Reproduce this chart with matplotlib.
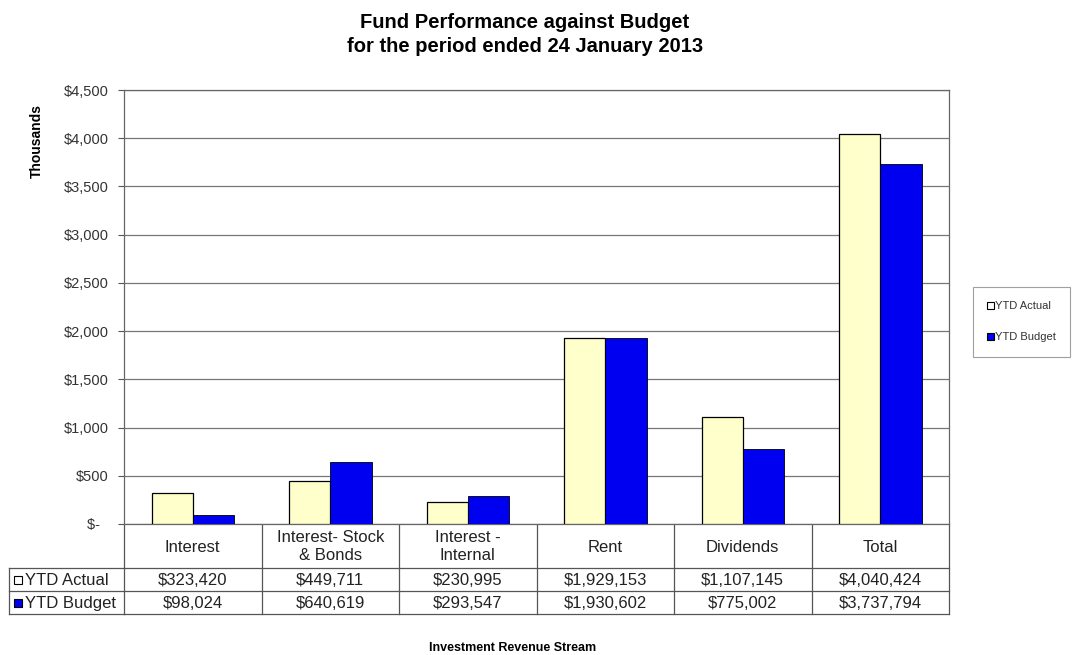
import numpy as np
import matplotlib
matplotlib.use("Agg")
import matplotlib.pyplot as plt
from matplotlib.patches import Rectangle
from matplotlib.ticker import FuncFormatter
from matplotlib.transforms import blended_transform_factory

plt.rcParams['font.family'] = ['Liberation Sans', 'DejaVu Sans']

# investment revenue by stream (dollars)
categories = ["Interest", "Interest- Stock\n& Bonds", "Interest -\nInternal",
              "Rent", "Dividends", "Total"]
ytd_actual = [323420, 449711, 230995, 1929153, 1107145, 4040424]
ytd_budget = [98024, 640619, 293547, 1930602, 775002, 3737794]
series_names = ["YTD Actual", "YTD Budget"]

col_actual = "#FFFFCC"
col_budget = "#0000F0"
line_col = "#555555"

W, H = 1073, 655
fig = plt.figure(figsize=(W / 100, H / 100), dpi=100)
ax = fig.add_axes([124 / W, (H - 524) / H, 825 / W, 434 / H])

x = np.arange(len(categories))
bw = 0.3
actual_k = np.array(ytd_actual) / 1000
budget_k = np.array(ytd_budget) / 1000
ax.bar(x - bw / 2, actual_k, bw, color=col_actual, edgecolor="black", linewidth=0.9, zorder=3)
ax.bar(x + bw / 2, budget_k, bw, color=col_budget, edgecolor="black", linewidth=0.6, zorder=3)

ax.set_xlim(-0.5, len(categories) - 0.5)
ax.set_ylim(0, 4500)
ax.set_yticks(np.arange(0, 4501, 500))
# accounting style: zero shown as "$-"
ax.yaxis.set_major_formatter(FuncFormatter(lambda v, p: "$-  " if v == 0 else "${:,.0f}".format(v)))
ax.tick_params(axis="y", labelsize=10.5, length=4, color=line_col, labelcolor="#333333", pad=7)
ax.set_xticks([])
ax.grid(axis="y", color="#777777", linewidth=0.9, zorder=0)
for s in ax.spines.values():
    s.set_color("#666666")
    s.set_linewidth(0.9)

# overlay in pixel units for the data table
ov = fig.add_axes([0, 0, 1, 1], zorder=-1)
ov.set_xlim(0, W)
ov.set_ylim(H, 0)
ov.axis("off")
tr = blended_transform_factory(ax.transData, ov.transData)

y_top, y_head, y_mid, y_bot = 524, 568, 591, 614
x_left = 9
edges = np.arange(len(categories) + 1) - 0.5
kw = dict(color=line_col, linewidth=0.9)
for e in edges:
    ov.plot([e, e], [y_top, y_bot], transform=tr, **kw)
for yy in (y_head, y_mid, y_bot):
    ov.plot([x_left, 124], [yy, yy], **kw)
    ov.plot([edges[0], edges[-1]], [yy, yy], transform=tr, **kw)
ov.plot([x_left, x_left], [y_head, y_bot], **kw)

for i, cat in enumerate(categories):
    ov.text(i, (y_top + y_head) / 2 + 1, cat, transform=tr, ha="center", va="center",
            fontsize=12, color="#222222", linespacing=1.25)
    ov.text(i, (y_head + y_mid) / 2 + 1, "${:,}".format(ytd_actual[i]), transform=tr,
            ha="center", va="center", fontsize=12, color="#222222")
    ov.text(i, (y_mid + y_bot) / 2 + 1, "${:,}".format(ytd_budget[i]), transform=tr,
            ha="center", va="center", fontsize=12, color="#222222")

for j, (name, fc) in enumerate(zip(series_names, ["white", col_budget])):
    yc = [(y_head + y_mid) / 2, (y_mid + y_bot) / 2][j]
    ov.add_patch(Rectangle((14, yc - 4), 8, 8, facecolor=fc, edgecolor="black", linewidth=0.8))
    ov.text(25, yc + 1, name, ha="left", va="center", fontsize=12, color="#222222")

# legend at right
handles = [Rectangle((0, 0), 1, 1, facecolor="white", edgecolor="black", linewidth=0.8),
           Rectangle((0, 0), 1, 1, facecolor=col_budget, edgecolor="black", linewidth=0.8)]
leg = fig.legend(handles, series_names, loc="upper left",
                 bbox_to_anchor=(967 / W, 1 - 281 / H), fontsize=8,
                 handlelength=0.6, handleheight=0.6, handletextpad=0.1,
                 labelspacing=1.9, borderpad=1.3, fancybox=False, frameon=True)
leg.get_frame().set_edgecolor("#888888")
leg.get_frame().set_linewidth(0.8)
for t in leg.get_texts():
    t.set_color("#333333")

fig.text(525 / W, 1 - 22 / H, "Fund Performance against Budget", ha="center", va="center",
         fontsize=14.5, fontweight="bold")
fig.text(525 / W, 1 - 47 / H, "for the period ended 24 January 2013", ha="center", va="center",
         fontsize=14.5, fontweight="bold")
fig.text(37 / W, 1 - 141 / H, "Thousands", rotation=90, ha="center", va="center",
         fontsize=10, fontweight="bold")
fig.text(513 / W, 1 - 648 / H, "Investment Revenue Stream", ha="center", va="center",
         fontsize=9, fontweight="bold")

fig.savefig("out.png", dpi=100)
